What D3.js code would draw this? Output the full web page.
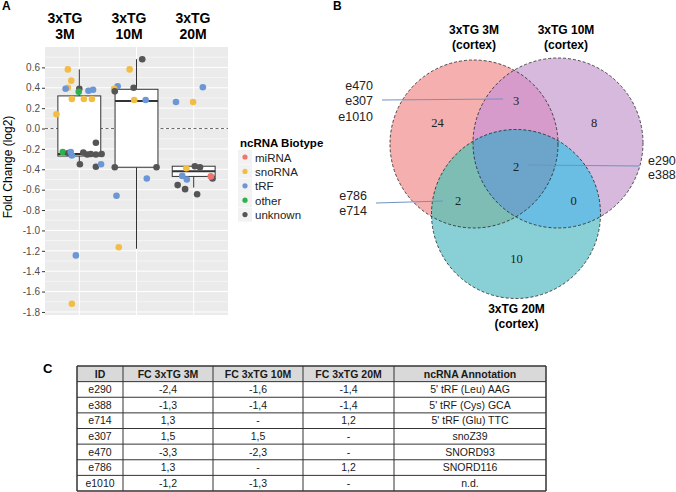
<!DOCTYPE html>
<html>
<head>
<meta charset="utf-8">
<script src="https://cdn.jsdelivr.net/npm/d3@7"></script>
<style>
body { margin: 0; background: #fff; }
svg { display: block; font-family: "Liberation Sans", Arial, Helvetica, sans-serif; }
</style>
</head>
<body>
<svg id="fig" width="676" height="492"></svg>
<script>
// ---------------- data ----------------
var groups = ['3M', '10M', '20M'];
var biotypes = ['miRNA', 'snoRNA', 'tRF', 'other', 'unknown'];
var biotypeColors = ['#F07470', '#F2BD45', '#6C97D6', '#2DB34A', '#555555'];

// fold change (log2) of each ncRNA, its biotype, and its jitter (category units)
var fc3M = [0.58, 0.47, 0.40, 0.39, 0.39, 0.36, 0.37, 0.38, 0.29, 0.29, 0.29, 0.14, -0.14,
    -0.23, -0.24, -0.23, -0.265, -0.235, -0.255, -0.25, -0.255, -0.25, -0.35, -0.375, -0.35, -1.245, -1.72];
var type3M = ['snoRNA', 'snoRNA', 'snoRNA', 'tRF', 'unknown', 'other', 'tRF', 'tRF', 'snoRNA', 'snoRNA', 'snoRNA', 'snoRNA', 'unknown',
    'other', 'unknown', 'tRF', 'tRF', 'unknown', 'unknown', 'unknown', 'unknown', 'unknown', 'unknown', 'unknown', 'tRF', 'tRF', 'snoRNA'];
var jit3M = [-0.20, -0.14, -0.20, -0.24, 0.0, -0.01, 0.16, 0.24, -0.13, 0.08, 0.22, -0.40, 0.29,
    -0.29, -0.19, -0.15, -0.13, 0.07, 0.14, 0.20, 0.29, 0.39, 0.01, 0.29, 0.38, -0.06, -0.13];

var fc10M = [0.68, 0.58, 0.415, 0.39, 0.365, 0.40, 0.28, 0.28, -0.38, -0.38, -0.49, -0.66, -1.165];
var type10M = ['unknown', 'snoRNA', 'tRF', 'snoRNA', 'unknown', 'unknown', 'snoRNA', 'tRF', 'unknown', 'unknown', 'tRF', 'tRF', 'snoRNA'];
var jit10M = [0.10, -0.12, -0.33, -0.39, -0.38, -0.05, -0.04, 0.16, -0.38, 0.35, 0.18, -0.35, -0.31];

var fc20M = [0.405, 0.26, 0.26, -0.39, -0.37, -0.38, -0.465, -0.50, -0.49, -0.47, -0.555, -0.595, -0.645];
var type20M = ['tRF', 'tRF', 'snoRNA', 'snoRNA', 'unknown', 'unknown', 'tRF', 'tRF', 'unknown', 'miRNA', 'unknown', 'unknown', 'unknown'];
var jit20M = [0.16, -0.31, -0.01, -0.13, 0.02, 0.11, -0.20, -0.12, 0.33, 0.30, -0.28, -0.15, 0.06];

// boxplot: lower whisker, q1, median, q3, upper whisker
var boxLow = [-0.35, -1.18, -0.58];
var boxQ1 = [-0.27, -0.38, -0.47];
var boxMed = [-0.25, 0.27, -0.42];
var boxQ3 = [0.32, 0.385, -0.37];
var boxHigh = [0.58, 0.68, -0.37];

var yTicks = [0.6, 0.4, 0.2, 0.0, -0.2, -0.4, -0.6, -0.8, -1.0, -1.2, -1.4, -1.6, -1.8];

// Venn
var vennSets = ['3xTG 3M', '3xTG 10M', '3xTG 20M'];
var vennRegions = ['1', '2', '3', '12', '13', '23', '123'];
var vennCounts = [24, 8, 10, 3, 2, 0, 2];
var calloutRegions = ['12', '123', '13'];
var calloutIds = [['e470', 'e307', 'e1010'], ['e290', 'e388'], ['e786', 'e714']];

// table
var tableHeader = ['ID', 'FC 3xTG 3M', 'FC 3xTG 10M', 'FC 3xTG 20M', 'ncRNA Annotation'];
var tableIds = ['e290', 'e388', 'e714', 'e307', 'e470', 'e786', 'e1010'];
var tableFc3M = ['-2,4', '-1,3', '1,3', '1,5', '-3,3', '1,3', '-1,2'];
var tableFc10M = ['-1,6', '-1,4', '-', '1,5', '-2,3', '-', '-1,3'];
var tableFc20M = ['-1,4', '-1,4', '1,2', '-', '-', '1,2', '-'];
var tableAnnot = ["5' tRF (Leu) AAG", "5' tRF (Cys) GCA", "5' tRF (Glu) TTC", 'snoZ39', 'SNORD93', 'SNORD116', 'n.d.'];

// ---------------- panel A ----------------
var svg = d3.select('#fig');
var color = d3.scaleOrdinal().domain(biotypes).range(biotypeColors);

var panel = { l: 45, r: 228, t: 47, b: 315 };
var x = d3.scalePoint().domain(groups).range([panel.l, panel.r]).padding(0.6);
var y = d3.scaleLinear().domain([-1.83, 0.80]).range([panel.b, panel.t]);
var fmt = function (d) { return d3.format('.1f')(d).replace('\u2212', '-'); };

var aG = svg.append('g');
aG.append('rect')
    .attr('x', panel.l).attr('y', panel.t)
    .attr('width', panel.r - panel.l).attr('height', panel.b - panel.t)
    .attr('fill', '#EBEBEB');

// minor + major gridlines
var minor = d3.range(-1.7, 0.75, 0.2);
aG.selectAll('.minor').data(minor).enter().append('line')
    .attr('x1', panel.l).attr('x2', panel.r)
    .attr('y1', function (d) { return y(d); }).attr('y2', function (d) { return y(d); })
    .attr('stroke', '#fff').attr('stroke-width', 0.5);
aG.selectAll('.major').data(yTicks).enter().append('line')
    .attr('x1', panel.l).attr('x2', panel.r)
    .attr('y1', function (d) { return y(d); }).attr('y2', function (d) { return y(d); })
    .attr('stroke', '#fff').attr('stroke-width', 1);
aG.selectAll('.vmajor').data(groups).enter().append('line')
    .attr('x1', function (d) { return x(d); }).attr('x2', function (d) { return x(d); })
    .attr('y1', panel.t).attr('y2', panel.b)
    .attr('stroke', '#fff').attr('stroke-width', 1);

// zero line
aG.append('line')
    .attr('x1', panel.l).attr('x2', panel.r)
    .attr('y1', y(0)).attr('y2', y(0))
    .attr('stroke', '#444').attr('stroke-width', 0.8).attr('stroke-dasharray', '3,2.5');

// y axis
var yAxis = d3.axisLeft(y).tickValues(yTicks).tickFormat(fmt).tickSize(3).tickPadding(2);
var yAx = aG.append('g').attr('transform', 'translate(' + panel.l + ',0)').call(yAxis);
yAx.select('.domain').remove();
yAx.selectAll('line').attr('stroke', '#333');
yAx.selectAll('text').attr('fill', '#4D4D4D').style('font-size', '10px')
    .style('font-family', '"Liberation Sans", Arial, sans-serif');

aG.append('text')
    .attr('transform', 'translate(12,167)rotate(-90)')
    .attr('text-anchor', 'middle')
    .style('font-size', '12px')
    .text('Fold Change (log2)');

// boxplots
var bw = 0.75 * x.step();
groups.forEach(function (g, i) {
    var cx = x(g);
    var bg = aG.append('g');
    bg.append('line').attr('x1', cx).attr('x2', cx).attr('y1', y(boxHigh[i])).attr('y2', y(boxQ3[i]))
        .attr('stroke', '#333').attr('stroke-width', 1);
    bg.append('line').attr('x1', cx).attr('x2', cx).attr('y1', y(boxQ1[i])).attr('y2', y(boxLow[i]))
        .attr('stroke', '#333').attr('stroke-width', 1);
    bg.append('rect').attr('x', cx - bw / 2).attr('y', y(boxQ3[i]))
        .attr('width', bw).attr('height', y(boxQ1[i]) - y(boxQ3[i]))
        .attr('fill', '#fff').attr('stroke', '#333').attr('stroke-width', 1);
    bg.append('line').attr('x1', cx - bw / 2).attr('x2', cx + bw / 2)
        .attr('y1', y(boxMed[i])).attr('y2', y(boxMed[i]))
        .attr('stroke', '#333').attr('stroke-width', 2);
});

// points
var pointSets = [[fc3M, type3M, jit3M], [fc10M, type10M, jit10M], [fc20M, type20M, jit20M]];
groups.forEach(function (g, i) {
    var vals = pointSets[i][0], types = pointSets[i][1], jit = pointSets[i][2];
    var pts = vals.map(function (v, k) { return { v: v, t: types[k], j: jit[k] }; });
    aG.append('g').selectAll('circle').data(pts).enter().append('circle')
        .attr('cx', function (d) { return x(g) + d.j * x.step(); })
        .attr('cy', function (d) { return y(d.v); })
        .attr('r', 3.3)
        .attr('fill', function (d) { return color(d.t); });
});

// column headers
var headerX = [65, 129, 193];
groups.forEach(function (g, i) {
    var t = aG.append('text').attr('text-anchor', 'middle')
        .style('font-size', '14px').style('font-weight', 'bold');
    t.append('tspan').attr('x', headerX[i]).attr('y', 23).text('3xTG');
    t.append('tspan').attr('x', headerX[i]).attr('y', 38.5).text(g);
});

// legend
var lg = svg.append('g').attr('transform', 'translate(238,0)');
lg.append('text').attr('x', 2).attr('y', 147).style('font-size', '11.5px').style('font-weight', 'bold')
    .text('ncRNA Biotype');
var lItems = lg.selectAll('.li').data(biotypes).enter().append('g')
    .attr('transform', function (d, i) { return 'translate(0,' + (150 + i * 14.4) + ')'; });
lItems.append('rect').attr('width', 14).attr('height', 14).attr('fill', '#F2F2F2');
lItems.append('circle').attr('cx', 7).attr('cy', 7).attr('r', 2.6)
    .attr('fill', function (d) { return color(d); });
lItems.append('text').attr('x', 17).attr('y', 11.5).style('font-size', '11.5px').attr('fill', '#222')
    .text(function (d) { return d; });

// panel letters
svg.append('text').attr('x', 2).attr('y', 10).style('font-size', '12px').style('font-weight', 'bold').text('A');
svg.append('text').attr('x', 333).attr('y', 10).style('font-size', '12px').style('font-weight', 'bold').text('B');
svg.append('text').attr('x', 43).attr('y', 373).style('font-size', '13px').style('font-weight', 'bold').text('C');

// ---------------- panel B: Venn ----------------
var circles = [{ x: 474, y: 144, r: 84 }, { x: 558, y: 143, r: 85 }, { x: 516, y: 214, r: 84.5 }];
var regionColor = { '1': '#F4AFAE', '2': '#D6B9DC', '3': '#88D0D6', '12': '#D69ACB', '13': '#7EBDB3', '23': '#6ABDE3', '123': '#6CA5C9' };
var regionLabel = { '1': [437.5, 127], '2': [594, 127], '3': [516.5, 262.5], '12': [516, 104.5], '13': [458, 205], '23': [573.5, 205], '123': [516, 170.5] };

var defs = svg.append('defs');
circles.forEach(function (c, i) {
    defs.append('clipPath').attr('id', 'vc' + i).append('circle')
        .attr('cx', c.x).attr('cy', c.y).attr('r', c.r);
});
var vg = svg.append('g');
circles.forEach(function (c, i) {
    vg.append('circle').attr('cx', c.x).attr('cy', c.y).attr('r', c.r).attr('fill', regionColor[String(i + 1)]);
});
function overlap(clips, c, fill) {
    var g = vg;
    clips.forEach(function (k) { g = g.append('g').attr('clip-path', 'url(#vc' + k + ')'); });
    g.append('circle').attr('cx', c.x).attr('cy', c.y).attr('r', c.r).attr('fill', fill);
}
overlap([0], circles[1], regionColor['12']);
overlap([0], circles[2], regionColor['13']);
overlap([1], circles[2], regionColor['23']);
overlap([0, 1], circles[2], regionColor['123']);
circles.forEach(function (c) {
    vg.append('circle').attr('cx', c.x).attr('cy', c.y).attr('r', c.r)
        .attr('fill', 'none').attr('stroke', '#222').attr('stroke-width', 0.8).attr('stroke-dasharray', '3,2');
});

vg.selectAll('.cnt').data(vennRegions).enter().append('text')
    .attr('x', function (d) { return regionLabel[d][0]; })
    .attr('y', function (d) { return regionLabel[d][1]; })
    .attr('text-anchor', 'middle')
    .style('font-family', '"Liberation Serif", "Times New Roman", serif')
    .style('font-size', '12.5px').attr('fill', '#222')
    .text(function (d, i) { return vennCounts[i]; });

// set titles
var setTitlePos = [[474, 33.5, 48.5], [566, 33.5, 48.5], [516.5, 312.5, 327.5]];
vennSets.forEach(function (s, i) {
    var p = setTitlePos[i];
    var t = vg.append('text').attr('text-anchor', 'middle').style('font-size', '12px').style('font-weight', 'bold');
    t.append('tspan').attr('x', p[0]).attr('y', p[1]).text(s);
    t.append('tspan').attr('x', p[0]).attr('y', p[2]).text('(cortex)');
});

// callouts
var callLines = [[382, 100, 503, 99], [528, 165, 639, 166], [376, 203, 443, 201]];
var callText = [{ x: 373, y: 89.5, anchor: 'end', dy: 15.5 }, { x: 648, y: 165, anchor: 'start', dy: 14 },
    { x: 367, y: 200, anchor: 'end', dy: 15 }];
calloutRegions.forEach(function (r, i) {
    var l = callLines[i];
    vg.append('line').attr('x1', l[0]).attr('y1', l[1]).attr('x2', l[2]).attr('y2', l[3])
        .attr('stroke', '#7092C4').attr('stroke-width', 1);
    var ct = callText[i];
    vg.append('g').selectAll('text').data(calloutIds[i]).enter().append('text')
        .attr('x', ct.x).attr('y', function (d, k) { return ct.y + k * ct.dy; })
        .attr('text-anchor', ct.anchor).style('font-size', '12.5px').attr('fill', '#222')
        .text(function (d) { return d; });
});

// ---------------- panel C: table ----------------
var colEdges = [77, 123, 213, 303, 394, 546];
var rowY = d3.scaleBand().domain(d3.range(8)).range([366, 491]);
var rows = [tableHeader].concat(tableIds.map(function (id, i) {
    return [id, tableFc3M[i], tableFc10M[i], tableFc20M[i], tableAnnot[i]];
}));
var tg = svg.append('g');
tg.append('rect').attr('x', colEdges[0]).attr('y', rowY(0))
    .attr('width', colEdges[5] - colEdges[0]).attr('height', rowY.bandwidth())
    .attr('fill', '#D9D9D9');
rows.forEach(function (row, ri) {
    row.forEach(function (cell, ci) {
        tg.append('text')
            .attr('x', (colEdges[ci] + colEdges[ci + 1]) / 2)
            .attr('y', rowY(ri) + rowY.bandwidth() / 2 + 3.7)
            .attr('text-anchor', 'middle')
            .style('font-size', ri === 0 ? '10.5px' : '10.5px')
            .style('font-weight', ri === 0 ? 'bold' : 'normal')
            .attr('fill', '#1a1a1a')
            .text(cell);
    });
});
d3.range(9).forEach(function (k) {
    var yy = k < 8 ? rowY(k) : rowY(7) + rowY.bandwidth();
    tg.append('line').attr('x1', colEdges[0]).attr('x2', colEdges[5]).attr('y1', yy).attr('y2', yy)
        .attr('stroke', '#333').attr('stroke-width', k === 0 || k === 8 ? 1.5 : 1);
});
colEdges.forEach(function (cx, k) {
    tg.append('line').attr('x1', cx).attr('x2', cx).attr('y1', rowY(0)).attr('y2', rowY(7) + rowY.bandwidth())
        .attr('stroke', '#333').attr('stroke-width', k === 0 || k === 5 ? 1.5 : 1);
});
</script>
</body>
</html>
